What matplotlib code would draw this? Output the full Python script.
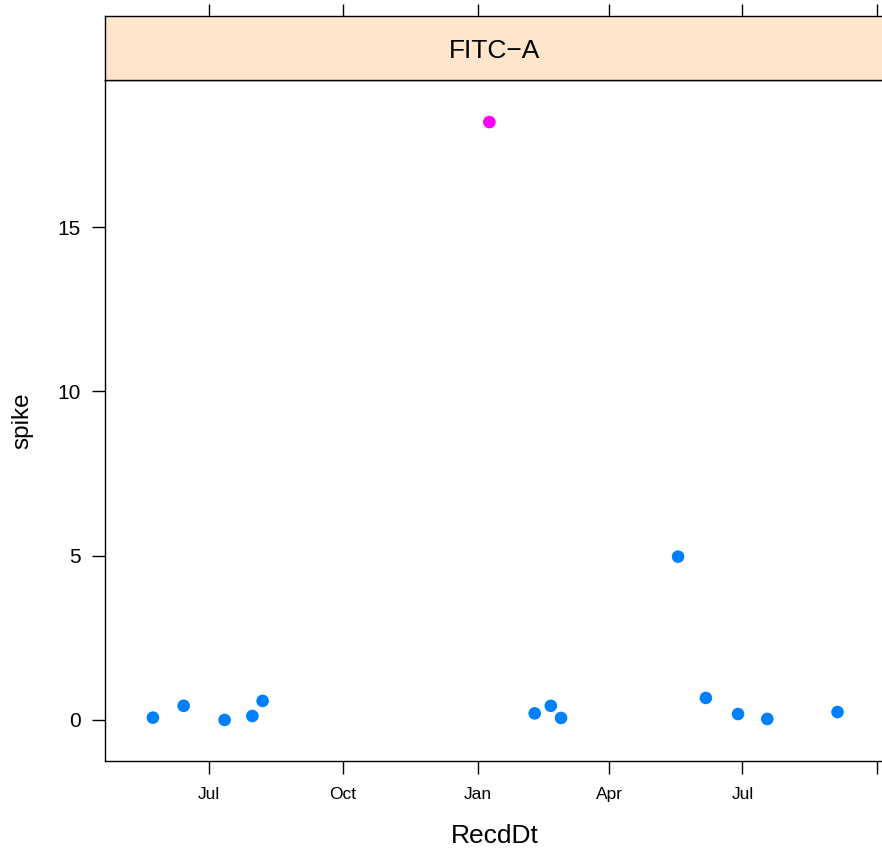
import matplotlib
matplotlib.use("Agg")
import matplotlib.pyplot as plt
import matplotlib.dates as mdates
import numpy as np
from datetime import datetime

plt.rcParams['font.family'] = ['Liberation Sans', 'DejaVu Sans']

# data
dates = ["2013-05-24", "2013-06-14", "2013-07-12", "2013-07-31", "2013-08-07",
         "2014-01-09", "2014-02-09", "2014-02-20", "2014-02-27",
         "2014-05-18", "2014-06-06", "2014-06-28", "2014-07-18", "2014-09-04"]
spike = [0.07, 0.43, 0.0, 0.12, 0.58,
         18.2, 0.2, 0.43, 0.06,
         4.97, 0.67, 0.18, 0.03, 0.24]
outlier = [False, False, False, False, False,
           True, False, False, False,
           False, False, False, False, False]
tick_dates = ["2013-07-01", "2013-10-01", "2014-01-01", "2014-04-01", "2014-07-01", "2014-10-01"]
tick_labels = ["Jul", "Oct", "Jan", "Apr", "Jul", ""]
yticks = [0, 5, 10, 15]
panel_title = "FITC\u2212A"

W, H = 882, 848
DPI = 100
fig = plt.figure(figsize=(W / DPI, H / DPI), dpi=DPI)

px_per_day = (877 - 208.5) / 457.0
left_px, right_px = 105, 885
top_px, strip_bot_px, bot_px = 16, 80, 761

x0 = mdates.date2num(datetime(2013, 7, 1)) - (208.5 - left_px) / px_per_day
x1 = x0 + (right_px - left_px) / px_per_day

ax = fig.add_axes([left_px / W, 1 - bot_px / H, (right_px - left_px) / W, (bot_px - strip_bot_px) / H])
sax = fig.add_axes([left_px / W, 1 - strip_bot_px / H, (right_px - left_px) / W, (strip_bot_px - top_px) / H])

xd = mdates.date2num([datetime.strptime(d, "%Y-%m-%d") for d in dates])
y = np.array(spike)
mask = np.array(outlier)
ax.scatter(xd[~mask], y[~mask], s=82, color="#0080FF", edgecolors="none", zorder=3)
ax.scatter(xd[mask], y[mask], s=82, color="#FF00FF", edgecolors="none", zorder=3)

ax.set_xlim(x0, x1)
ax.set_ylim(-1.25, 19.48)
td = mdates.date2num([datetime.strptime(d, "%Y-%m-%d") for d in tick_dates])
ax.set_xticks(td)
ax.set_xticklabels(tick_labels, fontsize=12.5)
ax.set_yticks(yticks)
ax.set_yticklabels([str(v) for v in yticks], fontsize=15)
ax.tick_params(axis='x', direction='out', length=9.5, width=1.0, pad=9, top=False)
ax.tick_params(axis='y', direction='out', length=9.5, width=1.0, pad=8, right=False)
for sp in ax.spines.values():
    sp.set_linewidth(1.0)

fig.text(495 / W, 1 - 843 / H, "RecdDt", ha='center', va='baseline', fontsize=19)
fig.text(22 / W, 1 - 421 / H, "spike", ha='center', va='center', rotation=90, fontsize=17.5)

sax.set_facecolor("#FFE5CC")
sax.set_xlim(x0, x1)
sax.set_ylim(0, 1)
sax.set_xticks(td)
sax.set_xticklabels([])
sax.set_yticks([])
sax.xaxis.set_ticks_position('top')
sax.tick_params(axis='x', direction='out', length=8.5, width=1.0, bottom=False, top=True, labeltop=False)
for sp in sax.spines.values():
    sp.set_linewidth(1.0)
sax.text(0.5, (strip_bot_px - 58) / (strip_bot_px - top_px), panel_title, transform=sax.transAxes,
         ha='center', va='baseline', fontsize=19)

fig.savefig("out.png", dpi=DPI)
